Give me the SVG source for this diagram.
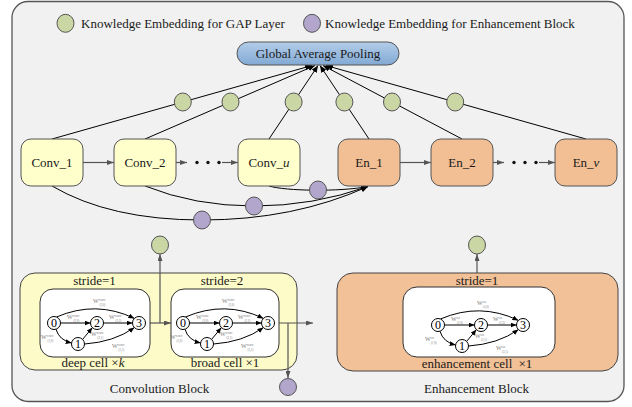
<svg xmlns="http://www.w3.org/2000/svg" width="632" height="407" viewBox="0 0 632 407">
<defs>
<linearGradient id="gapGrad" x1="0" y1="0" x2="0" y2="1">
<stop offset="0" stop-color="#b3cde9"/>
<stop offset="1" stop-color="#82a9d4"/>
</linearGradient>
<marker id="ak" markerUnits="userSpaceOnUse" markerWidth="7" markerHeight="6" refX="7" refY="3" orient="auto"><path d="M0,0 L7,3 L0,6 z" fill="#000"/></marker>
<marker id="ag" markerUnits="userSpaceOnUse" markerWidth="7" markerHeight="5" refX="7" refY="2.5" orient="auto"><path d="M0,0 L7,2.5 L0,5 z" fill="#555"/></marker>
<marker id="ac" markerUnits="userSpaceOnUse" markerWidth="6" markerHeight="5" refX="6" refY="2.5" orient="auto"><path d="M0,0 L6,2.5 L0,5 z" fill="#000"/></marker>
</defs>
<style>
text{font-family:"Liberation Serif","Times New Roman",serif;fill:#1a1a1a}
.t13{font-size:13px}
.mid{text-anchor:middle}
.ge{fill:#cad6a4;stroke:#555;stroke-width:1}
.pe{fill:#b2a6cd;stroke:#555;stroke-width:1}
.cv{fill:#ffffcc;stroke:#555;stroke-width:1}
.en{fill:#f2bf95;stroke:#555;stroke-width:1}
.gl{fill:none;stroke:#000;stroke-width:1;marker-end:url(#ak)}
.ha{fill:none;stroke:#555;stroke-width:1.2;marker-end:url(#ag)}
.pc{fill:none;stroke:#000;stroke-width:1;marker-end:url(#ak)}
.nd{fill:#fff;stroke:#000;stroke-width:1}
.ce{fill:none;stroke:#000;stroke-width:1;marker-end:url(#ac)}
.dg{font-size:12px;text-anchor:middle;fill:#000}
.wl{font-size:6px;fill:#777}
.sp{font-size:3.5px;fill:#777}
.sb{font-size:3px;fill:#777}
.box{fill:#fff;stroke:#333;stroke-width:1}
.dot{fill:#111}
</style>

<g id="background">
<rect x="12" y="1.5" width="612" height="400" rx="16" fill="#f1f1f1" stroke="#555" stroke-width="1.3"/>
</g>

<g id="legend">
<ellipse class="ge" cx="65.5" cy="23.3" rx="8.5" ry="9"/>
<text class="t13" x="81" y="27.5">Knowledge Embedding for GAP Layer</text>
<ellipse class="pe" cx="312" cy="23.3" rx="8.5" ry="9"/>
<text class="t13" x="325" y="27.5">Knowledge Embedding for Enhancement Block</text>
</g>

<g id="conv-block">
<rect x="20" y="273" width="277" height="97" rx="15" fill="#fdfbc8" stroke="#444" stroke-width="1"/>
<text class="t13 mid" x="94.5" y="285">stride=1</text>
<text class="t13 mid" x="222" y="285">stride=2</text>
<text class="t13 mid" x="159.5" y="393">Convolution Block</text>
</g>

<g id="enh-block">
<rect x="337" y="273" width="281" height="98" rx="16" fill="#f2c197" stroke="#444" stroke-width="1"/>
<text class="t13 mid" x="477" y="285">stride=1</text>
<text class="t13 mid" x="476.5" y="393">Enhancement Block</text>
</g>

<g id="connectors">
<path class="gl" d="M52,139 L312,65.5"/>
<path class="gl" d="M145,139 L315,65.5"/>
<path class="gl" d="M269,139 L318,65.5"/>
<path class="gl" d="M369,139 L320,65.5"/>
<path class="gl" d="M462,139 L323,65.5"/>
<path class="gl" d="M586,139 L326,65.5"/>
<path class="ha" d="M83,162.5 H114"/>
<path class="ha" d="M176,162.5 H187"/>
<path class="ha" d="M222,162.5 H238"/>
<path class="ha" d="M400,162.5 H431"/>
<path class="ha" d="M493,162.5 H504"/>
<path class="ha" d="M539,162.5 H555"/>
<circle class="dot" cx="197" cy="162.5" r="1.7"/>
<circle class="dot" cx="208" cy="162.5" r="1.7"/>
<circle class="dot" cx="219" cy="162.5" r="1.7"/>
<circle class="dot" cx="514" cy="162.5" r="1.7"/>
<circle class="dot" cx="525" cy="162.5" r="1.7"/>
<circle class="dot" cx="536" cy="162.5" r="1.7"/>
<path class="pc" d="M269,186 C285,191 340,192 368,186.5"/>
<path class="pc" d="M145,186 Q195,206 254,206 T368,186.5"/>
<path class="pc" d="M52,186 Q110,220 202,220 T368,186.5"/>
<path class="ha" d="M145.5,323 H171"/>
<path class="ha" d="M160,323 V254"/>
<path class="ha" d="M274.5,323 H313"/>
<path class="ha" d="M288,323 V378"/>
<path class="ha" d="M477,273 V254"/>
</g>

<g id="gap">
<rect x="237" y="42" width="162" height="23" rx="11.5" fill="url(#gapGrad)" stroke="#555" stroke-width="1"/>
<text class="t13 mid" x="318" y="58">Global Average Pooling</text>
</g>

<g id="ke-gap-1"><ellipse class="ge" cx="182.8" cy="102" rx="8.5" ry="9"/></g>
<g id="ke-gap-2"><ellipse class="ge" cx="230.5" cy="102" rx="8.5" ry="9"/></g>
<g id="ke-gap-3"><ellipse class="ge" cx="293.6" cy="102" rx="8.5" ry="9"/></g>
<g id="ke-gap-4"><ellipse class="ge" cx="344.4" cy="102" rx="8.5" ry="9"/></g>
<g id="ke-gap-5"><ellipse class="ge" cx="392" cy="102" rx="8.5" ry="9"/></g>
<g id="ke-gap-6"><ellipse class="ge" cx="455.2" cy="102" rx="8.5" ry="9"/></g>
<g id="ke-enh-1"><ellipse class="pe" cx="318" cy="190" rx="8.5" ry="9"/></g>
<g id="ke-enh-2"><ellipse class="pe" cx="254" cy="206" rx="8.5" ry="9"/></g>
<g id="ke-enh-3"><ellipse class="pe" cx="202" cy="220" rx="8.5" ry="9"/></g>
<g id="ke-conv-gap"><ellipse class="ge" cx="160" cy="245" rx="8.5" ry="9"/></g>
<g id="ke-conv-enh"><ellipse class="pe" cx="288" cy="387" rx="8.5" ry="8.5"/></g>
<g id="ke-enh-gap"><ellipse class="ge" cx="477" cy="245" rx="8.5" ry="9"/></g>

<g id="conv1"><rect class="cv" x="21" y="139" width="62" height="47" rx="10"/><text class="t13 mid" x="52" y="167">Conv_1</text></g>
<g id="conv2"><rect class="cv" x="114" y="139" width="62" height="47" rx="10"/><text class="t13 mid" x="145" y="167">Conv_2</text></g>
<g id="convu"><rect class="cv" x="238" y="139" width="62" height="47" rx="10"/><text class="t13 mid" x="269" y="167">Conv_<tspan font-style="italic">u</tspan></text></g>
<g id="en1"><rect class="en" x="338" y="139" width="62" height="47" rx="10"/><text class="t13 mid" x="369" y="167">En_1</text></g>
<g id="en2"><rect class="en" x="431" y="139" width="62" height="47" rx="10"/><text class="t13 mid" x="462" y="167">En_2</text></g>
<g id="env"><rect class="en" x="555" y="139" width="62" height="47" rx="10"/><text class="t13 mid" x="586" y="167">En_<tspan font-style="italic">v</tspan></text></g>

<g id="deep-cell">
<rect class="box" x="40" y="289" width="110" height="68" rx="13"/>
<text class="t13 mid" x="93" y="367">deep cell ×<tspan font-style="italic">k</tspan></text>
<g transform="translate(54,323)">
<path class="ce" d="M6.5,0 H36.5"/>
<path class="ce" d="M49.5,0 H78.5"/>
<path class="ce" d="M2.5,-6 Q42,-23 80.4,-4.6"/>
<path class="ce" d="M2,6.2 Q5,17 17.6,20"/>
<path class="ce" d="M28.6,16.4 L38.4,4.6"/>
<path class="ce" d="M30.5,21 Q60,19 80.4,4.6"/>
<circle class="nd" cx="0" cy="0" r="6.5"/><text class="dg" x="0" y="4">0</text>
<circle class="nd" cx="24" cy="21" r="6.5"/><text class="dg" x="24" y="25">1</text>
<circle class="nd" cx="43" cy="0" r="6.5"/><text class="dg" x="43" y="4">2</text>
<circle class="nd" cx="85" cy="0" r="6.5"/><text class="dg" x="85" y="4">3</text>
<text class="wl" x="39" y="-20">W<tspan class="sp" dy="-2.2">conv</tspan><tspan class="sb" dx="-6" dy="5">(3,0)</tspan></text>
<text class="wl" x="13" y="-4">W<tspan class="sp" dy="-2.2">conv</tspan><tspan class="sb" dx="-6" dy="5">(2,0)</tspan></text>
<text class="wl" x="55" y="-4">W<tspan class="sp" dy="-2.2">conv</tspan><tspan class="sb" dx="-6" dy="5">(3,2)</tspan></text>
<text class="wl" x="-13" y="16">W<tspan class="sp" dy="-2.2">conv</tspan><tspan class="sb" dx="-6" dy="5">(1,0)</tspan></text>
<text class="wl" x="37" y="13">W<tspan class="sp" dy="-2.2">conv</tspan><tspan class="sb" dx="-6" dy="5">(2,1)</tspan></text>
<text class="wl" x="58" y="25">W<tspan class="sp" dy="-2.2">conv</tspan><tspan class="sb" dx="-6" dy="5">(3,1)</tspan></text>
</g>
</g>

<g id="broad-cell">
<rect class="box" x="171" y="289" width="108" height="68" rx="13"/>
<text class="t13 mid" x="225" y="367">broad cell ×1</text>
<g transform="translate(183,323)">
<path class="ce" d="M6.5,0 H36.5"/>
<path class="ce" d="M49.5,0 H78.5"/>
<path class="ce" d="M2.5,-6 Q42,-23 80.4,-4.6"/>
<path class="ce" d="M2,6.2 Q5,17 17.6,20"/>
<path class="ce" d="M28.6,16.4 L38.4,4.6"/>
<path class="ce" d="M30.5,21 Q60,19 80.4,4.6"/>
<circle class="nd" cx="0" cy="0" r="6.5"/><text class="dg" x="0" y="4">0</text>
<circle class="nd" cx="24" cy="21" r="6.5"/><text class="dg" x="24" y="25">1</text>
<circle class="nd" cx="43" cy="0" r="6.5"/><text class="dg" x="43" y="4">2</text>
<circle class="nd" cx="85" cy="0" r="6.5"/><text class="dg" x="85" y="4">3</text>
<text class="wl" x="39" y="-20">W<tspan class="sp" dy="-2.2">conv</tspan><tspan class="sb" dx="-6" dy="5">(3,0)</tspan></text>
<text class="wl" x="13" y="-4">W<tspan class="sp" dy="-2.2">conv</tspan><tspan class="sb" dx="-6" dy="5">(2,0)</tspan></text>
<text class="wl" x="55" y="-4">W<tspan class="sp" dy="-2.2">conv</tspan><tspan class="sb" dx="-6" dy="5">(3,2)</tspan></text>
<text class="wl" x="-13" y="16">W<tspan class="sp" dy="-2.2">conv</tspan><tspan class="sb" dx="-6" dy="5">(1,0)</tspan></text>
<text class="wl" x="37" y="13">W<tspan class="sp" dy="-2.2">conv</tspan><tspan class="sb" dx="-6" dy="5">(2,1)</tspan></text>
<text class="wl" x="58" y="25">W<tspan class="sp" dy="-2.2">conv</tspan><tspan class="sb" dx="-6" dy="5">(3,1)</tspan></text>
</g>
</g>

<g id="enhancement-cell">
<rect class="box" x="403" y="287" width="152" height="70" rx="14"/>
<text class="t13 mid" x="477" y="368">enhancement cell <tspan dx="3">×1</tspan></text>
<g transform="translate(438,325)">
<path class="ce" d="M6.5,0 H36.5"/>
<path class="ce" d="M49.5,0 H78.5"/>
<path class="ce" d="M2.5,-6 Q42,-23 80.4,-4.6"/>
<path class="ce" d="M2,6.2 Q5,17 17.6,20"/>
<path class="ce" d="M28.6,16.4 L38.4,4.6"/>
<path class="ce" d="M30.5,21 Q60,19 80.4,4.6"/>
<circle class="nd" cx="0" cy="0" r="6.5"/><text class="dg" x="0" y="4">0</text>
<circle class="nd" cx="24" cy="21" r="6.5"/><text class="dg" x="24" y="25">1</text>
<circle class="nd" cx="43" cy="0" r="6.5"/><text class="dg" x="43" y="4">2</text>
<circle class="nd" cx="85" cy="0" r="6.5"/><text class="dg" x="85" y="4">3</text>
<text class="wl" x="39" y="-20">W<tspan class="sp" dy="-2.2">en</tspan><tspan class="sb" dx="-3" dy="5">(3,0)</tspan></text>
<text class="wl" x="13" y="-4">W<tspan class="sp" dy="-2.2">en</tspan><tspan class="sb" dx="-3" dy="5">(2,0)</tspan></text>
<text class="wl" x="55" y="-4">W<tspan class="sp" dy="-2.2">en</tspan><tspan class="sb" dx="-3" dy="5">(3,2)</tspan></text>
<text class="wl" x="-13" y="16">W<tspan class="sp" dy="-2.2">en</tspan><tspan class="sb" dx="-3" dy="5">(1,0)</tspan></text>
<text class="wl" x="37" y="13">W<tspan class="sp" dy="-2.2">en</tspan><tspan class="sb" dx="-3" dy="5">(2,1)</tspan></text>
<text class="wl" x="58" y="25">W<tspan class="sp" dy="-2.2">en</tspan><tspan class="sb" dx="-3" dy="5">(3,1)</tspan></text>
</g>
</g>
</svg>
